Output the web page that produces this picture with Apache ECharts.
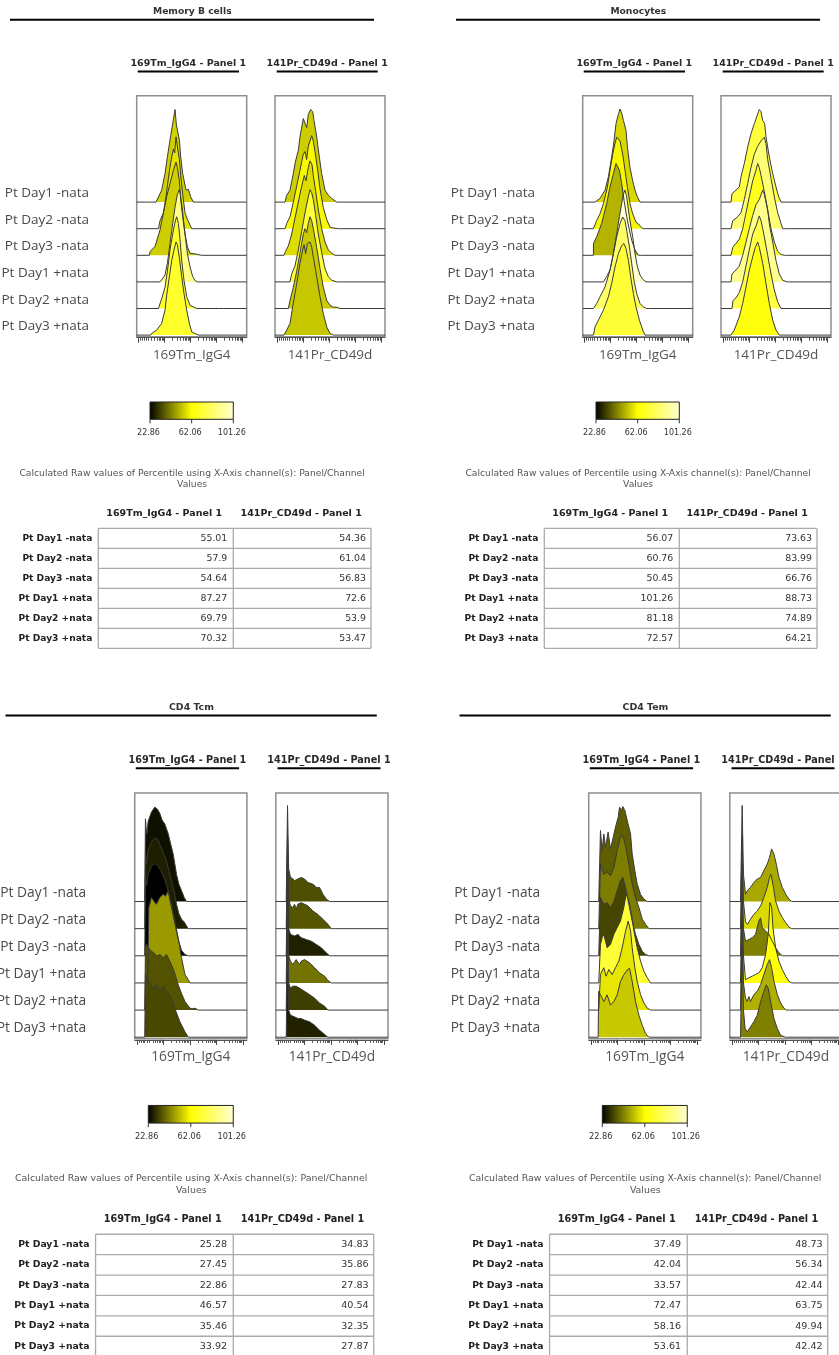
<!DOCTYPE html>
<html>
<head>
<meta charset="utf-8">
<script src="https://cdn.jsdelivr.net/npm/echarts@6/dist/echarts.min.js"></script>
<style>
  html, body { margin: 0; padding: 0; background: #fff; }
  #chart { width: 839px; height: 1355px; }
</style>
</head>
<body>
<div id="chart"></div>
<script>
// ---- labels ----
const rowLabels = ['Pt Day1 -nata', 'Pt Day2 -nata', 'Pt Day3 -nata', 'Pt Day1 +nata', 'Pt Day2 +nata', 'Pt Day3 +nata'];
const panelTitles = ['Memory B cells', 'Monocytes', 'CD4 Tcm', 'CD4 Tem'];
const channelNames = ['169Tm_IgG4', '141Pr_CD49d'];
const columnHeaders = ['169Tm_IgG4 - Panel 1', '141Pr_CD49d - Panel 1'];
const captionLines = ['Calculated Raw values of Percentile using X-Axis channel(s): Panel/Channel', 'Values'];
const scaleStops = [22.86, 62.06, 101.26];
const scaleTickLabels = ['22.86', '62.06', '101.26'];

// ---- percentile values (colour of each histogram) ----
const memoryB_IgG4 = [55.01, 57.9, 54.64, 87.27, 69.79, 70.32];
const memoryB_CD49d = [54.36, 61.04, 56.83, 72.6, 53.9, 53.47];
const mono_IgG4 = [56.07, 60.76, 50.45, 101.26, 81.18, 72.57];
const mono_CD49d = [73.63, 83.99, 66.76, 88.73, 74.89, 64.21];
const tcm_IgG4 = [25.28, 27.45, 22.86, 46.57, 35.46, 33.92];
const tcm_CD49d = [34.83, 35.86, 27.83, 40.54, 32.35, 27.87];
const tem_IgG4 = [37.49, 42.04, 33.57, 72.47, 58.16, 53.61];
const tem_CD49d = [48.73, 56.34, 42.44, 63.75, 49.94, 42.42];

// ---- histogram outlines: [channel position, count in row units] per sample ----
const memoryB_IgG4_hist = [
  [[11.7,0],[12.7,0.05],[14,0],[19.3,0],[25,0.45],[28.3,1.07],[30.7,1.7],[33.3,2.33],[36,2.95],[38.3,3.48],[39.7,2.9],[40.7,2.95],[42.7,2.33],[44,1.7],[46,1.07],[49.3,0.45],[51.7,0.48],[54,0.2],[56.7,0]],
  [[21.7,0],[23.3,0.3],[26.7,0.6],[29.3,1.2],[31.7,1.9],[34,2.5],[36.7,3.0],[38,2.85],[39.3,3.45],[41,3.0],[42.7,2.6],[44,2.0],[46,1.3],[48.3,0.6],[50.7,0.35],[52.7,0.3],[55,0]],
  [[12.7,0],[13.5,0.15],[15.5,0.12],[18.3,0.33],[23.3,0.95],[26.7,1.6],[30,2.2],[33.3,2.7],[36.7,3.2],[39.3,3.5],[40.7,3.3],[42.7,2.8],[44,2.1],[46,1.45],[48.3,0.8],[50.7,0.33],[53.3,0.08],[60,0.04],[61.7,0]],
  [[23.3,0],[25,0.08],[28.3,0.26],[30.7,0.7],[33.3,1.45],[36,2.2],[38.3,2.8],[40.7,3.3],[42.7,3.47],[44,3.2],[46,2.6],[48.3,1.8],[50.7,1.07],[53.3,0.57],[56,0.2],[58.3,0.05],[60.7,0]],
  [[21.7,0],[25,0.37],[28.3,0.8],[30.7,1.4],[33.3,2.2],[36,2.8],[38.3,3.25],[40,3.45],[41.7,3.2],[43.3,2.6],[45,1.8],[47.3,1.05],[50,0.45],[53.3,0.12],[56.7,0.06],[60,0],[82.5,0],[83.3,0.04],[84,0]],
  [[14,0],[15.5,0.08],[16.7,0.06],[20,0.19],[25,0.44],[28.3,0.94],[30,1.5],[32.7,2.2],[35,2.8],[37.3,3.2],[39.3,3.5],[40.7,3.4],[42.7,2.9],[45,2.2],[47.3,1.56],[50,0.94],[52.7,0.44],[55,0.12],[58.3,0.06],[61.7,0]]
];
const memoryB_CD49d_hist = [
  [[10,0],[11.7,0.26],[15,0.45],[18.3,1.07],[20,1.45],[23.3,1.95],[25,2.45],[28.3,3.14],[30,3.1],[31.7,2.8],[33.3,3.3],[35.7,3.48],[37.7,3.4],[39,3.07],[41.7,2.45],[44.3,1.7],[46.7,1.07],[50,0.45],[53.3,0.26],[56.7,0.14],[61.7,0]],
  [[10,0],[11.7,0.2],[15,0.45],[18.3,1.0],[21.7,1.6],[25,2.2],[28.3,2.8],[30,2.9],[31.7,2.6],[33.3,3.1],[36.7,3.5],[38.3,3.3],[40,2.9],[42.7,2.2],[45,1.5],[48.3,0.8],[51.7,0.35],[55,0.05],[58,0.03],[63.3,0]],
  [[9,0],[10.5,0.15],[13.3,0.35],[16.7,0.8],[20,1.4],[23.3,2.0],[26.7,2.6],[29.3,3.0],[31,2.8],[33.3,3.3],[35,3.55],[37,3.4],[38.3,3.0],[40.7,2.4],[43.3,1.7],[46.7,1.0],[50,0.5],[53.3,0.2],[56.7,0.08],[60,0]],
  [[15,0],[16.7,0.3],[20,0.6],[23.3,1.2],[26.7,1.9],[30,2.6],[33.3,3.2],[35,3.47],[36.7,3.35],[38.3,3.1],[40.7,2.5],[43.3,1.8],[46.7,1.1],[50,0.5],[53.3,0.2],[56.7,0.06],[61.7,0]],
  [[13.3,0],[15,0.3],[18.3,0.8],[21.7,1.4],[25,2.1],[28.3,2.8],[30,3.0],[31.7,2.85],[33.3,3.2],[35,3.45],[36.7,3.3],[38.3,3.0],[41.7,2.3],[45,1.5],[48.3,0.8],[51.7,0.3],[55,0.12],[58.3,0.05],[61.7,0.05],[65,0],[67,0.03],[70,0]],
  [[9,0],[11.7,0.19],[15,0.44],[18.3,1.2],[21.7,1.94],[25,2.7],[27.7,3.2],[29,3.4],[30.7,3.06],[32.3,3.44],[35,3.5],[36.7,3.3],[38.3,2.94],[41.7,2.2],[45,1.44],[48.3,0.81],[51.7,0.31],[55,0.06],[58.3,0]]
];
const mono_IgG4_hist = [
  [[12.3,0],[17.3,0.14],[22.3,0.45],[25.7,0.95],[29,1.7],[31.3,2.3],[33.3,2.95],[35.7,3.3],[37.3,3.5],[39,3.35],[40.7,3.07],[43.3,2.7],[44.7,2.07],[47.3,1.3],[50,0.8],[52.3,0.45],[54.7,0.2],[57.3,0]],
  [[10.7,0],[14,0.31],[17.3,0.56],[20.7,0.94],[24.7,1.56],[27.3,2.2],[30,2.8],[32.3,3.2],[34,3.44],[35.7,3.5],[37.3,3.3],[40,2.8],[42.3,2.2],[44.7,1.56],[47.3,0.94],[50,0.56],[53.3,0.25],[57.3,0.12],[60,0]],
  [[10.7,0],[10.8,0.45],[14,0.7],[19,1.2],[24,1.95],[27.3,2.57],[30.7,3.07],[33.3,3.45],[34.7,3.5],[36.7,3.2],[39,2.7],[41.3,2.07],[44,1.45],[46.7,0.95],[49,0.57],[52.3,0.2],[55.7,0]],
  [[20.7,0],[24,0.2],[27.3,0.45],[30.7,1.07],[34,1.82],[36.7,2.45],[39,2.95],[40.7,3.3],[42.3,3.45],[44,3.2],[45.7,2.7],[47.3,2.3],[50,1.7],[52.3,1.07],[54.7,0.57],[57.3,0.26],[60,0.1],[63.3,0]],
  [[10.7,0],[14,0.19],[17.3,0.44],[22.3,0.81],[27.3,1.44],[30.7,2.06],[34,2.69],[37.3,3.19],[40,3.44],[42.3,3.3],[44,2.94],[46.7,2.31],[49,1.69],[51.3,1.06],[54,0.56],[57.3,0.19],[60.7,0.06],[64,0]],
  [[10.7,0],[12.3,0.31],[15.7,0.56],[20.7,0.94],[25.7,1.44],[29,1.94],[32.3,2.56],[35.7,3.06],[39,3.37],[41.3,3.44],[43.3,3.25],[45.7,2.81],[48,2.19],[50.7,1.56],[53.3,1.06],[56.7,0.56],[60,0.19],[62.3,0]]
];
const mono_CD49d_hist = [
  [[10,0],[11,0.32],[15,0.45],[18.3,0.57],[20,0.95],[23.3,1.45],[26.7,2.07],[30,2.57],[33.3,2.95],[35.7,3.2],[38.3,3.48],[40,3.4],[41.7,3.07],[43.7,2.95],[45,2.45],[48.3,1.7],[51.7,1.07],[55,0.57],[57.7,0.2],[60,0]],
  [[10,0],[11.7,0.3],[16.7,0.45],[20,0.6],[23.3,1.1],[26.7,1.7],[30,2.3],[33.3,2.8],[36.7,3.1],[40,3.3],[43.3,3.44],[45,3.2],[46.7,2.6],[50,1.9],[53.3,1.2],[56.7,0.6],[60,0.2],[61.7,0]],
  [[10,0],[11.7,0.3],[15,0.45],[18.3,0.6],[21.7,1.0],[25,1.6],[28.3,2.2],[31.7,2.8],[35,3.2],[36.7,3.45],[38.3,3.3],[40,3.0],[43.3,2.4],[46.7,1.7],[50,1.0],[53.3,0.5],[56.7,0.15],[60,0.03],[63.3,0]],
  [[10,0],[11,0.3],[15,0.45],[18.3,0.6],[21.7,1.0],[25,1.5],[28.3,2.0],[31.7,2.5],[35,2.9],[38.3,3.1],[41.7,3.45],[43.3,3.3],[45,3.0],[46.7,2.7],[48.3,2.2],[51.7,1.5],[55,0.8],[58.3,0.3],[61.7,0.06],[63.3,0]],
  [[11,0],[12,0.3],[15,0.4],[18.3,0.6],[21.7,1.0],[25,1.6],[28.3,2.2],[31.7,2.8],[35,3.1],[36.7,3.3],[38.3,3.48],[40,3.3],[41.7,3.0],[43.3,2.7],[46.7,2.0],[50,1.3],[53.3,0.7],[56.7,0.25],[60,0]],
  [[10,0],[13.3,0.19],[18.3,0.69],[21.7,1.19],[25,1.81],[28.3,2.44],[31.7,2.94],[34.3,3.3],[36.7,3.5],[38.3,3.3],[41.7,2.7],[45,1.94],[48.3,1.19],[51.7,0.56],[55,0.19],[58.3,0]]
];
const tcm_IgG4_hist = [
  [[9.8,0],[10.5,3.05],[11.2,2.7],[12,2.5],[13.1,2.95],[16.4,3.3],[19.7,3.48],[22.3,3.4],[24.6,3.25],[26.9,3.0],[29.5,2.86],[32.8,2.5],[35.4,2.1],[37.7,1.75],[41,1.0],[43.3,0.64],[45.9,0.4],[48.5,0.15],[50.8,0]],
  [[9.8,0],[10.5,2.8],[11.5,2.4],[13.1,2.9],[16.4,3.2],[19.7,3.35],[22.3,3.3],[24.6,3.1],[27.9,2.8],[31.1,2.5],[34.4,2.0],[37.7,1.5],[41,0.9],[43.3,0.55],[45.9,0.35],[48.5,0.25],[50.8,0.1],[52.5,0]],
  [[9.8,0],[10.5,2.9],[11.5,2.6],[13.1,3.0],[16.4,3.3],[19.7,3.4],[23,3.3],[26.2,3.1],[29.5,2.8],[32.8,2.4],[36.1,1.8],[39.3,1.2],[42.6,0.6],[45.9,0.2],[49.2,0.05],[50.8,0.05],[52.5,0]],
  [[12.8,0],[13.8,2.78],[16.4,3.15],[19,3.0],[21.3,2.9],[24.6,3.15],[27.9,3.27],[30.2,3.2],[32.8,3.4],[34.4,3.09],[37.7,2.53],[42.6,1.67],[45.9,0.93],[49.2,0.31],[52.5,0.12],[54.1,0]],
  [[9.8,0],[10.5,2.3],[11.5,2.42],[13.5,2.3],[16.4,2.17],[19,2.1],[21.3,1.99],[24.6,2.05],[27.9,1.93],[31.1,2.05],[34.4,1.8],[38,1.5],[42.6,0.94],[46,0.6],[49.2,0.32],[54.1,0.07],[57,0.05],[59,0.07],[62.3,0]],
  [[9.8,0],[10.5,2.3],[13.1,2.1],[14.8,2.0],[18,1.8],[21.3,1.93],[24.6,1.74],[27.9,1.86],[31.1,1.68],[34.4,1.56],[39.3,1.06],[44.3,0.57],[49.2,0.2],[52.5,0]]
];
const tcm_CD49d_hist = [
  [[10.2,0],[11.5,3.54],[12.6,1.2],[14.4,0.89],[16.4,0.85],[18.4,0.77],[21.6,0.83],[24.9,0.89],[28.2,0.83],[31.5,0.7],[36.4,0.64],[39.7,0.52],[42.9,0.52],[46.2,0.27],[49.5,0.09],[52.8,0]],
  [[10.2,0],[11.5,3.4],[12.6,1.1],[14.4,0.84],[16.7,0.78],[18.4,0.9],[20,0.72],[21.6,0.9],[24.9,0.96],[28.2,0.9],[31.5,0.84],[36.4,0.65],[41,0.53],[46.2,0.35],[51.1,0.16],[54.4,0]],
  [[10.2,0],[11.5,3.4],[12.6,1.0],[14.4,0.79],[18.4,0.73],[21.6,0.79],[24.9,0.67],[29.8,0.6],[34.8,0.54],[39.7,0.42],[44.6,0.3],[49.5,0.11],[52.8,0]],
  [[10.2,0],[11.5,3.4],[12.6,1.0],[14.4,0.8],[16.7,0.68],[20,0.86],[23.3,0.68],[24.9,0.8],[28.2,0.86],[33.1,0.74],[38,0.56],[42.9,0.37],[47.9,0.25],[51.1,0.09],[54.4,0]],
  [[10.2,0],[11.5,3.4],[12.6,1.0],[14.4,0.81],[16.7,0.88],[18.4,0.81],[20,0.88],[23.3,0.81],[28.2,0.69],[33.1,0.57],[38,0.44],[42.9,0.26],[47.9,0.14],[51.1,0]],
  [[10.2,0],[11.5,3.4],[12.6,1.0],[14.4,0.81],[18.4,0.75],[21.6,0.69],[24.9,0.69],[28.2,0.63],[33.1,0.57],[38,0.44],[42.9,0.26],[47.9,0.1],[51.1,0]]
];
const tem_IgG4_hist = [
  [[9.8,0],[11.5,2.62],[13.1,1.88],[14.8,2.49],[16.4,2.0],[19,2.56],[21.3,1.94],[23.6,2.3],[26.2,2.74],[28.9,3.11],[30.2,3.48],[32.1,3.36],[33.4,3.5],[35.4,3.36],[37.7,2.99],[41,2.49],[42.6,1.75],[45.2,1.14],[47.5,0.65],[50.8,0.26],[54.1,0.09],[57.4,0]],
  [[9.8,0],[11.5,2.38],[14.8,2.0],[18,2.1],[21.3,1.95],[24.6,2.25],[27.9,2.88],[31.1,3.37],[33.4,3.43],[36.1,3.06],[39.3,2.38],[42.6,1.64],[45.9,1.15],[49.2,0.78],[52.5,0.35],[55.7,0.16],[59,0]],
  [[9.8,0],[11.5,2.15],[14.8,1.9],[18,1.96],[21.3,1.78],[24.6,2.0],[27.9,2.4],[31.1,2.77],[33.4,2.9],[36.1,2.52],[39.3,1.9],[42.6,1.28],[45.9,0.79],[49.2,0.42],[52.5,0.17],[55.7,0.05],[59,0]],
  [[9.8,0],[11.5,1.42],[13.1,1.67],[14.8,1.79],[18,1.3],[21.3,1.42],[24.6,1.79],[27.9,2.04],[31.1,2.28],[34.4,2.78],[36.7,3.27],[39.3,3.02],[42,2.53],[44.3,1.91],[47.5,1.3],[50.8,0.8],[54.1,0.43],[57.4,0.19],[60.7,0]],
  [[9.8,0],[11.5,1.31],[14.8,1.56],[17,1.25],[19.7,1.49],[23,1.31],[26.2,1.56],[29.5,1.8],[32.8,2.3],[36.1,2.91],[38.7,3.28],[41,2.91],[42.6,2.3],[45.2,1.56],[47.5,1.06],[50.8,0.57],[54.1,0.26],[57.4,0.07],[60.7,0]],
  [[9.2,0],[9.8,1.7],[11.5,1.56],[14.8,1.31],[18,1.56],[21.3,1.19],[24.6,1.31],[27.9,1.56],[31.1,2.05],[34.4,2.3],[37.7,2.48],[40,2.54],[42.6,2.05],[45.9,1.31],[49.2,0.81],[52.5,0.44],[55.7,0.14],[59,0]]
];
const tem_CD49d_hist = [
  [[10.5,0],[12.1,3.54],[13.4,1.0],[15.4,0.27],[17,0.4],[20.3,0.52],[23.6,0.7],[26.9,0.83],[30.2,0.89],[33.4,1.14],[36.7,1.38],[39,1.63],[41,1.94],[43.3,1.75],[45.6,1.38],[48.2,0.89],[51.5,0.52],[54.8,0.27],[58,0.09],[60.7,0]],
  [[10.5,0],[12.1,3.4],[13.4,1.0],[15.4,0.25],[17.4,0.16],[20.3,0.35],[23.6,0.53],[26.9,0.65],[30.2,0.84],[33.4,1.15],[36.7,1.52],[39,1.9],[40.3,2.0],[42.3,1.64],[44.9,1.02],[48.2,0.65],[51.5,0.41],[54.8,0.22],[58,0.06],[60.7,0]],
  [[10.5,0],[12.1,3.4],[13.4,1.0],[15.4,0.54],[18.7,0.6],[22,0.67],[25.2,0.79],[28.5,1.28],[30.2,1.4],[31.8,1.04],[35.1,0.91],[38.4,0.79],[41.6,0.54],[44.9,0.3],[48.2,0.11],[51.5,0]],
  [[10.5,0],[12.1,3.4],[13.4,1.0],[15.4,0.12],[17,0.06],[18.7,0.19],[22,0.25],[25.2,0.31],[28.5,0.37],[31.8,0.56],[35.1,1.05],[37.7,1.79],[39.3,2.96],[41,2.8],[42.3,2.04],[44.9,1.3],[48.2,0.8],[51.5,0.49],[54.8,0.25],[58,0.06],[60.7,0]],
  [[10.5,0],[12.1,3.4],[13.4,1.0],[15.4,0.44],[17,0.32],[18.7,0.5],[20.3,0.32],[23.6,0.57],[26.9,0.69],[30.2,0.94],[33.4,1.31],[36.7,1.68],[39,1.86],[41,1.56],[43.3,1.06],[46.6,0.57],[49.8,0.26],[53.1,0.07],[55.4,0]],
  [[10.5,0],[12.1,3.4],[13.4,1.0],[15,0.32],[17,0.2],[18.7,0.26],[20.3,0.38],[23.6,0.57],[26.9,0.81],[30.2,1.31],[33.4,1.68],[35.7,1.93],[37.7,1.8],[40,1.31],[43.3,0.69],[46.6,0.32],[49.8,0.07],[51.5,0]]
];

// channel axis tick positions (log-like decades)
const majorTickPos = [2, 28, 54, 80, 106];
const minorTickPos = [4, 6, 8, 9.8, 12, 14.4, 17.7, 20.2, 22.2, 24, 25.5, 26.8,
  35.8, 40.4, 43.7, 46.2, 48.2, 50, 51.5, 52.8,
  61.8, 66.4, 69.7, 72.2, 74.2, 76, 77.5, 78.8,
  87.8, 92.4, 95.7, 98.2, 100.2, 102, 103.5, 104.8];

// ---- layout ----
const panels = [
  { title: panelTitles[0], values: [memoryB_IgG4, memoryB_CD49d], hists: [memoryB_IgG4_hist, memoryB_CD49d_hist], ox: 0, oy: 0, s: 1 },
  { title: panelTitles[1], values: [mono_IgG4, mono_CD49d], hists: [mono_IgG4_hist, mono_CD49d_hist], ox: 446, oy: 0, s: 1 },
  { title: panelTitles[2], values: [tcm_IgG4, tcm_CD49d], hists: [tcm_IgG4_hist, tcm_CD49d_hist], ox: -4.7, oy: 695.4, s: 1.02 },
  { title: panelTitles[3], values: [tem_IgG4, tem_CD49d], hists: [tem_IgG4_hist, tem_CD49d_hist], ox: 449.3, oy: 695.4, s: 1.02 }
];
const BOX_LEFT = [136.7, 275], BOX_TOP = 95.7, BOX_W = 110, BOX_H = 241;
const X_MAX = 110, Y_MIN = -0.06, Y_MAX = 9.0;
const scaleColors = [[0, 0, 0], [255, 255, 0], [255, 255, 208]];
const SANS = '"DejaVu Sans", Verdana, sans-serif';
const LABEL_FONT = '"Open Sans", sans-serif';

function colorFor(v) {
  const lo = v <= scaleStops[1];
  const a = lo ? scaleColors[0] : scaleColors[1];
  const b = lo ? scaleColors[1] : scaleColors[2];
  const f0 = lo ? (v - scaleStops[0]) / (scaleStops[1] - scaleStops[0]) : (v - scaleStops[1]) / (scaleStops[2] - scaleStops[1]);
  const f = Math.max(0, Math.min(1, f0));
  return 'rgb(' + a.map((x, i) => Math.round(x + (b[i] - x) * f)).join(',') + ')';
}

const grid = [], xAxis = [], yAxis = [], series = [], graphic = [];
const nRows = rowLabels.length;

panels.forEach((p, pi) => {
  const s = p.s;
  const X = (x) => p.ox + s * x;
  const Y = (y) => p.oy + s * y;

  [0, 1].forEach((c) => {
    const g = pi * 2 + c;
    grid.push({
      left: X(BOX_LEFT[c]), top: Y(BOX_TOP), width: s * BOX_W, height: s * BOX_H,
      outerBoundsMode: 'none', containLabel: false,
      show: true, borderColor: '#8e8e8e', borderWidth: 1.5, backgroundColor: '#fff'
    });
    xAxis.push({
      gridIndex: g, type: 'value', min: 0, max: X_MAX, position: 'bottom', offset: 1,
      axisLine: { show: true, onZero: false, lineStyle: { color: '#555', width: 1 } },
      axisTick: { show: true, customValues: majorTickPos, length: 5 * s, lineStyle: { color: '#444', width: 1 } },
      axisLabel: { show: false }, splitLine: { show: false },
      name: channelNames[c], nameLocation: 'middle', nameGap: 10 * s,
      nameTextStyle: { fontFamily: LABEL_FONT, fontSize: 13.5 * s, color: '#555' }
    });
    xAxis.push({
      gridIndex: g, type: 'value', min: 0, max: X_MAX, position: 'bottom', offset: 1,
      axisLine: { show: false, onZero: false },
      axisTick: { show: true, customValues: minorTickPos, length: 3 * s, lineStyle: { color: '#555', width: 1 } },
      axisLabel: { show: false }, splitLine: { show: false }
    });
    yAxis.push({
      gridIndex: g, type: 'value', min: Y_MIN, max: Y_MAX,
      axisLine: { show: false }, axisTick: { show: false }, splitLine: { show: false },
      axisLabel: c === 0 ? {
        show: true,
        customValues: rowLabels.map((_, r) => nRows - 1 - r + 0.33),
        formatter: (v) => rowLabels[Math.round(nRows - 1 + 0.33 - v)] || '',
        margin: 47.7 * s, fontFamily: LABEL_FONT, fontSize: 13.5 * s, color: '#4a4a4a'
      } : { show: false }
    });

    p.hists[c].forEach((curve, r) => {
      const base = nRows - 1 - r;
      const pts = curve.map(([x, h]) => [x, base + h]);
      const lastX = curve[curve.length - 1][0];
      series.push({
        type: 'line', xAxisIndex: 2 * g, yAxisIndex: g,
        // sample baseline runs across the full box on either side of the histogram
        data: [[0, base]].concat(pts, [[lastX + 3, base], [X_MAX, base]]),
        symbol: 'none', smooth: false, silent: true,
        lineStyle: { color: '#3a3a3a', width: 1 },
        areaStyle: { color: colorFor(p.values[c][r]), opacity: 1, origin: base }
      });
    });
  });

  // panel title + rule
  graphic.push({ type: 'text', x: X(192.3), y: Y(11.7), silent: true,
    style: { text: p.title, fontFamily: SANS, fontWeight: 'bold', fontSize: 9.2 * s, fill: '#333', align: 'center', verticalAlign: 'middle' } });
  graphic.push({ type: 'line', silent: true, shape: { x1: X(10), y1: Y(19.7), x2: X(374), y2: Y(19.7) }, style: { stroke: '#000', lineWidth: 2 } });

  // column headers above histograms
  const subCenters = [188.3, 327.2], subRule = [[137.7, 239], [276.7, 377.7]];
  [0, 1].forEach((c) => {
    graphic.push({ type: 'text', x: X(subCenters[c]), y: Y(64), silent: true,
      style: { text: columnHeaders[c], fontFamily: SANS, fontWeight: 'bold', fontSize: 9.5 * s, fill: '#2a2a2a', align: 'center', verticalAlign: 'middle' } });
    graphic.push({ type: 'line', silent: true, shape: { x1: X(subRule[c][0]), y1: Y(71.5), x2: X(subRule[c][1]), y2: Y(71.5) }, style: { stroke: '#000', lineWidth: 2 } });
  });

  // colour scale
  const cbL = 150, cbR = 233.3, cbT = 402, cbB = 419.3;
  graphic.push({ type: 'rect', silent: true, shape: { x: X(cbL), y: Y(cbT), width: s * (cbR - cbL), height: s * (cbB - cbT) },
    style: { fill: { type: 'linear', x: 0, y: 0, x2: 1, y2: 0, colorStops: [
      { offset: 0, color: colorFor(scaleStops[0]) }, { offset: 0.5, color: colorFor(scaleStops[1]) }, { offset: 1, color: colorFor(scaleStops[2]) }] },
      stroke: '#222', lineWidth: 1 } });
  const cbTicks = [cbL, (cbL + cbR) / 2, cbR];
  cbTicks.forEach((tx, i) => {
    graphic.push({ type: 'line', silent: true, shape: { x1: X(tx), y1: Y(cbB), x2: X(tx), y2: Y(cbB + 4) }, style: { stroke: '#333', lineWidth: 1 } });
    graphic.push({ type: 'text', x: X(tx - 1.5), y: Y(433.3), silent: true,
      style: { text: scaleTickLabels[i], fontFamily: SANS, fontSize: 8 * s, fill: '#333', align: 'center', verticalAlign: 'middle' } });
  });

  // caption
  captionLines.forEach((line, i) => {
    graphic.push({ type: 'text', x: X(192.1), y: Y(474 + i * 11), silent: true,
      style: { text: line, fontFamily: SANS, fontSize: 9.2 * s, fill: '#555', align: 'center', verticalAlign: 'middle' } });
  });

  // value table
  const tL = 98.3, tM = 233.3, tR = 371, tT = 528.3, rowH = 20;
  const headCenters = [164.2, 301.2];
  headCenters.forEach((hx, c) => {
    graphic.push({ type: 'text', x: X(hx), y: Y(514), silent: true,
      style: { text: columnHeaders[c], fontFamily: SANS, fontWeight: 'bold', fontSize: 9.5 * s, fill: '#222', align: 'center', verticalAlign: 'middle' } });
  });
  for (let i = 0; i <= nRows; i++) {
    graphic.push({ type: 'line', silent: true, shape: { x1: X(tL), y1: Y(tT + i * rowH), x2: X(tR), y2: Y(tT + i * rowH) }, style: { stroke: '#ababab', lineWidth: 1.3 } });
  }
  [tL, tM, tR].forEach((vx) => {
    graphic.push({ type: 'line', silent: true, shape: { x1: X(vx), y1: Y(tT), x2: X(vx), y2: Y(tT + nRows * rowH) }, style: { stroke: '#ababab', lineWidth: 1.3 } });
  });
  const valRight = [227.3, 366];
  rowLabels.forEach((lab, r) => {
    const cy = Y(tT + r * rowH + 10);
    graphic.push({ type: 'text', x: X(92.3), y: cy, silent: true,
      style: { text: lab, fontFamily: SANS, fontWeight: 'bold', fontSize: 9.1 * s, fill: '#222', align: 'right', verticalAlign: 'middle' } });
    [0, 1].forEach((c) => {
      graphic.push({ type: 'text', x: X(valRight[c]), y: cy, silent: true,
        style: { text: String(p.values[c][r]), fontFamily: SANS, fontSize: 9.4 * s, fill: '#333', align: 'right', verticalAlign: 'middle' } });
    });
  });
});

const chart = echarts.init(document.getElementById('chart'), null, { renderer: 'canvas', width: 839, height: 1355 });
chart.setOption({
  animation: false,
  backgroundColor: '#fff',
  grid, xAxis, yAxis, series, graphic
});
</script>
</body>
</html>
